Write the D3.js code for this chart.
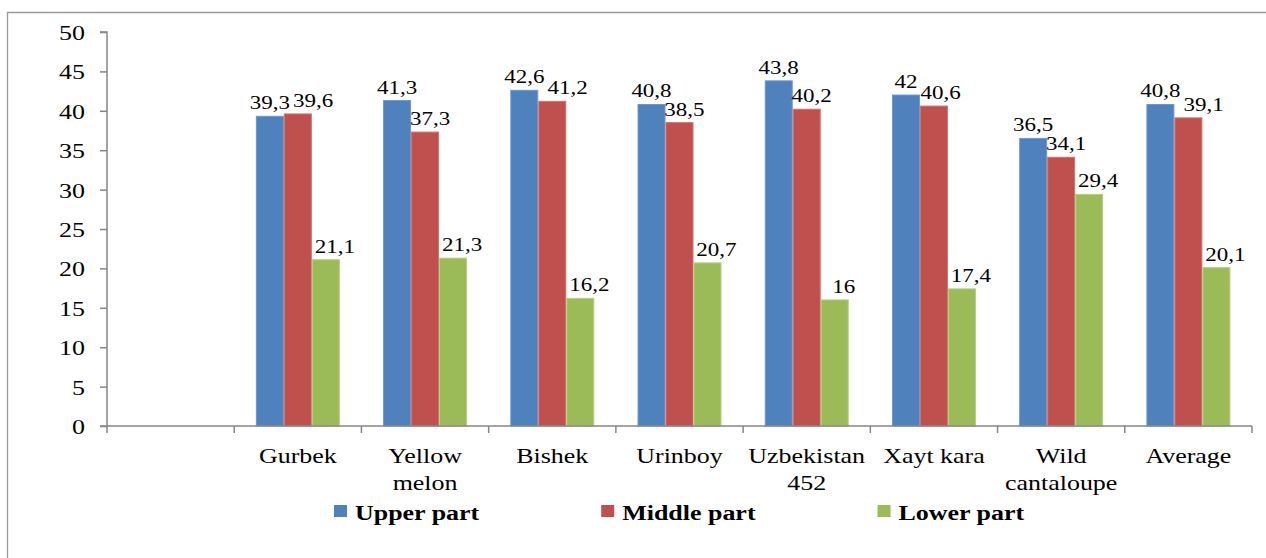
<!DOCTYPE html>
<html><head><meta charset="utf-8">
<script src="https://cdn.jsdelivr.net/npm/d3@7"></script>
<style>
html,body{margin:0;padding:0;background:#fff;}
</style></head>
<body><svg id="chart" width="1266" height="558" font-family="Liberation Serif"></svg>
<script>
const categories = ["", "Gurbek", "Yellow melon", "Bishek", "Urinboy", "Uzbekistan 452", "Xayt kara", "Wild cantaloupe", "Average"];
const seriesNames = ["Upper part", "Middle part", "Lower part"];
const upperPart = [null, 39.3, 41.3, 42.6, 40.8, 43.8, 42, 36.5, 40.8];
const middlePart = [null, 39.6, 37.3, 41.2, 38.5, 40.2, 40.6, 34.1, 39.1];
const lowerPart = [null, 21.1, 21.3, 16.2, 20.7, 16, 17.4, 29.4, 20.1];
const yTicks = [0, 5, 10, 15, 20, 25, 30, 35, 40, 45, 50];
const colors = ["#4F81BD", "#C0504D", "#9BBB59"];
const strokes = ["#6d97cc", "#d2706d", "#b3cf7c"];

(function () {
const SX = 1.18;
const FF = '"Liberation Serif"';
const svg = d3.select("#chart");
const pL = 107, pR = 1252, pT = 32, pB = 426;
const x = d3.scaleBand().domain(categories).range([pL, pR]).padding(0);
const y = d3.scaleLinear().domain([0, 50]).range([pB, pT]);
const groupW = x.bandwidth() * 0.66;
const x1 = d3.scaleBand().domain(seriesNames).range([0, groupW]);
const seriesData = [upperPart, middlePart, lowerPart];

// frame
svg.append("path").attr("d", `M7.5,560 V12.5 H1270`).attr("fill","none").attr("stroke","#999").attr("stroke-width",1.3);

// bars
seriesNames.forEach((s, si) => {
  const g = svg.append("g");
  categories.forEach((c, ci) => {
    const v = seriesData[si][ci];
    if (v == null) return;
    const bx = x(c) + (x.bandwidth() - groupW) / 2 + x1(s);
    g.append("rect").attr("x", bx + 0.5).attr("y", y(v)).attr("width", x1.bandwidth() - 1).attr("height", y(0) - y(v))
      .attr("fill", colors[si]).attr("stroke", strokes[si]).attr("stroke-width", 1);
  });
});

// value labels (shift right when colliding with the previous label in the group)
const labelShift = [0, 5, 9];
categories.forEach((c, ci) => {
  let prev = null;
  seriesNames.forEach((s, si) => {
    const v = seriesData[si][ci];
    if (v == null) return;
    const cx = x(c) + (x.bandwidth() - groupW) / 2 + x1(s) + x1.bandwidth() / 2 + labelShift[si];
    const by = y(v) - 7;
    const t = svg.append("text").attr("font-size", "19.5px").attr("font-family", FF).attr("fill", "#000")
      .text(String(v).replace(".", ","));
    const w = t.node().getComputedTextLength() * SX;
    let x0 = cx - w / 2;
    if (prev && Math.abs(prev.by - by) < 15 && x0 < prev.x1 + 3) x0 = prev.x1 + 3;
    t.attr("transform", `translate(${x0},${by}) scale(${SX},1)`);
    prev = { x1: x0 + w, by };
  });
});

// y axis
const yAxis = svg.append("g").attr("transform", `translate(${pL},0)`)
  .call(d3.axisLeft(y).tickValues(yTicks).tickSize(7).tickPadding(0));
yAxis.attr("font-family", FF);
yAxis.select(".domain").attr("stroke", "#868686").attr("stroke-width", 1.5).attr("d", `M-7,${pT}H0V${pB}H-7`);
yAxis.selectAll(".tick line").attr("stroke", "#868686").attr("stroke-width", 1.5);
yAxis.selectAll(".tick text").attr("x", null)
  .attr("transform", `translate(-22,0) scale(${SX},1)`).attr("dy", "0.34em")
  .attr("font-size", "22px").attr("font-family", FF).attr("fill", "#000");

// x axis
const xg = svg.append("g");
xg.append("line").attr("x1", pL).attr("x2", pR).attr("y1", pB).attr("y2", pB).attr("stroke", "#868686").attr("stroke-width", 1.5);
categories.concat(["__end"]).forEach((c, i) => {
  const tx = i < categories.length ? x(c) : pR;
  xg.append("line").attr("x1", tx).attr("x2", tx).attr("y1", pB).attr("y2", pB + 7).attr("stroke", "#868686").attr("stroke-width", 1.5);
});

// category labels with wrapping
categories.forEach(c => {
  if (!c) return;
  const cx = x(c) + x.bandwidth() / 2;
  const t = svg.append("text").attr("transform", `translate(${cx},${pB + 37}) scale(${SX},1)`)
    .attr("text-anchor", "middle").attr("font-size", "22px").attr("font-family", FF).attr("fill", "#000");
  const words = c.split(" ");
  let lines = [], cur = [];
  const probe = t.append("tspan");
  words.forEach(w => {
    const test = cur.concat([w]).join(" ");
    probe.text(test);
    if (cur.length && probe.node().getComputedTextLength() * SX > x.bandwidth() - 6) { lines.push(cur.join(" ")); cur = [w]; }
    else cur.push(w);
  });
  lines.push(cur.join(" "));
  probe.remove();
  lines.forEach((ln, li) => t.append("tspan").attr("x", 0).attr("y", li * 27).text(ln));
});

// legend
let lx = 334;
seriesNames.forEach((s, si) => {
  svg.append("rect").attr("x", lx).attr("y", 505).attr("width", 13).attr("height", 12).attr("fill", colors[si]);
  const t = svg.append("text").attr("transform", `translate(${lx + 21},${520}) scale(${SX},1)`)
    .attr("font-size", "22px").attr("font-weight", "bold").attr("font-family", FF).attr("fill", "#000").text(s);
  lx += 21 + t.node().getComputedTextLength() * SX + 122;
});
})();
</script></body></html>
